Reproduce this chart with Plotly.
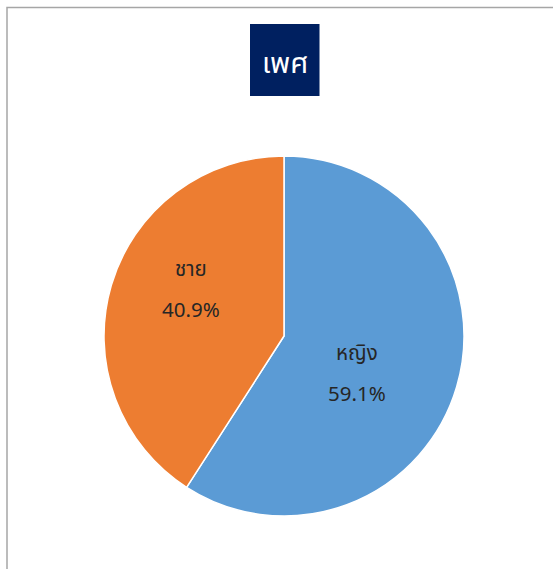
import plotly.graph_objects as go

W, H = 553, 569
categories = ["หญิง", "ชาย"]
values = [59.1, 40.9]
colors = ["#5B9BD5", "#ED7D31"]
title_text = "เพศ"

FONT = "Tahoma, 'Noto Sans Thai', 'Noto Sans', sans-serif"

def px(x):
    return x / W

def py(y):
    return 1 - y / H

fig = go.Figure()
fig.add_trace(go.Pie(
    labels=categories,
    values=values,
    sort=False,
    direction="clockwise",
    rotation=0,
    marker=dict(colors=colors, line=dict(color="white", width=1.5)),
    textinfo="none",
    hoverinfo="label+percent",
    showlegend=False,
    domain=dict(x=[px(104), px(464)], y=[py(516), py(156)]),
))

# label positions (pixel centres) for each slice
label_pos = [(357, 353), (191, 269)]
pct_pos = [(357, 394), (191, 310)]
for cat, val, (lx, ly), (qx, qy) in zip(categories, values, label_pos, pct_pos):
    fig.add_annotation(x=px(lx), y=py(ly), xref="paper", yref="paper",
                       xanchor="center", yanchor="middle",
                       text=cat, showarrow=False,
                       font=dict(family=FONT, size=20.5, color="#262626"))
    fig.add_annotation(x=px(qx), y=py(qy), xref="paper", yref="paper",
                       xanchor="center", yanchor="middle",
                       text=f"{val:.1f}%", showarrow=False,
                       font=dict(family=FONT, size=20.5, color="#262626"))

# title box
fig.add_shape(type="rect", xref="paper", yref="paper",
              x0=px(250), x1=px(319.5), y0=py(96), y1=py(24),
              fillcolor="#002060", line=dict(width=0), layer="below")
fig.add_annotation(x=px(284.5), y=py(64), xref="paper", yref="paper",
                   xanchor="center", yanchor="middle",
                   text=title_text, showarrow=False,
                   font=dict(family=FONT, size=29, color="white"))

# chart frame
fig.add_shape(type="rect", xref="paper", yref="paper",
              x0=px(7), x1=px(W + 10), y0=py(H + 10), y1=py(7.5),
              line=dict(color="#A6A6A6", width=1.5), fillcolor="rgba(0,0,0,0)")

fig.update_layout(
    width=W, height=H,
    margin=dict(l=0, r=0, t=0, b=0),
    paper_bgcolor="white",
    plot_bgcolor="white",
)

fig.write_html("out.html", config={"displayModeBar": False},
               post_script="document.body.style.margin='0';document.body.style.overflow='hidden';")
